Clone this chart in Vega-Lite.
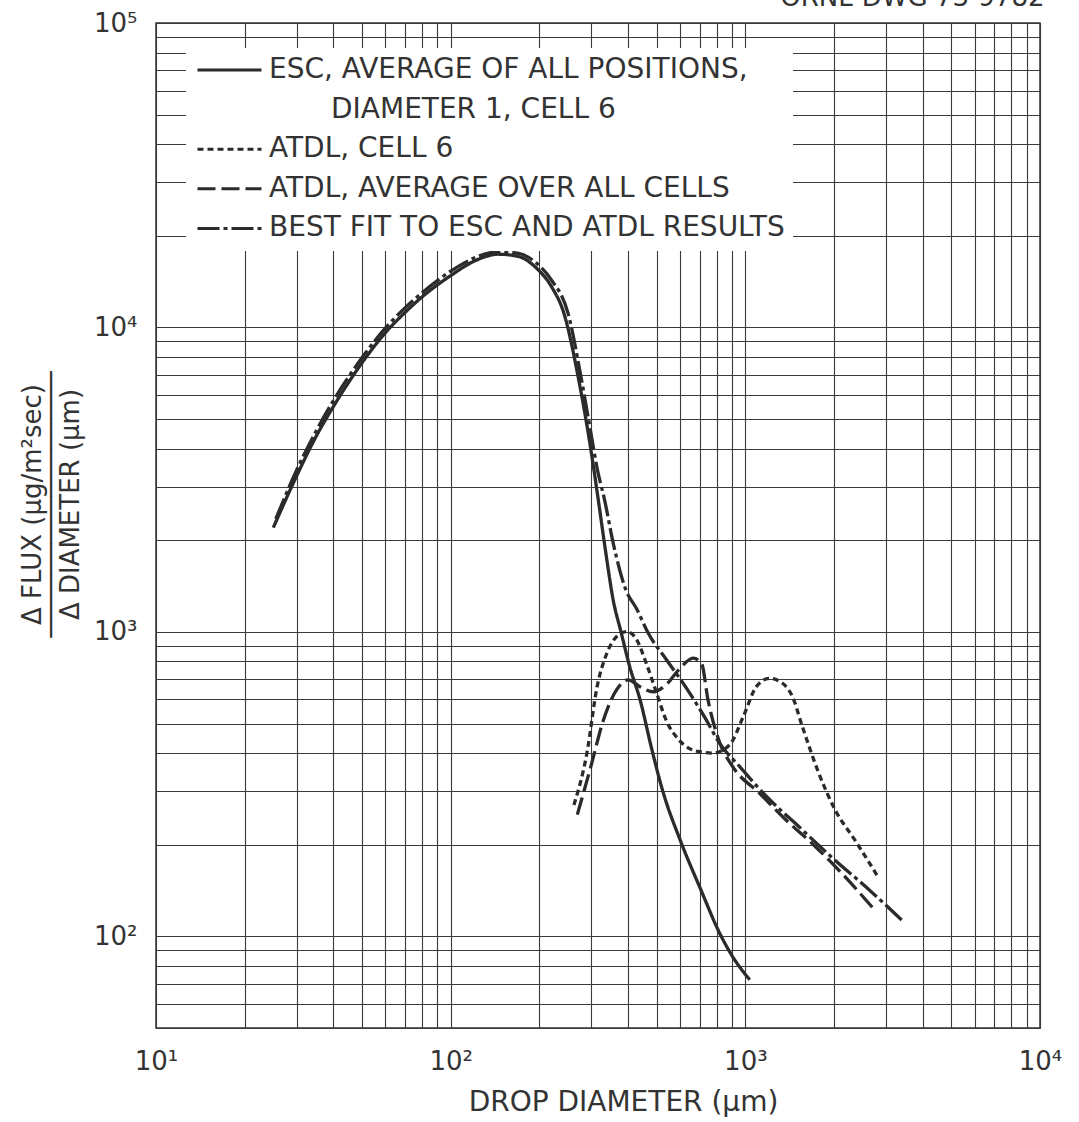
{
  "$schema": "https://vega.github.io/schema/vega-lite/v6.json",
  "width": 884,
  "height": 1005,
  "autosize": {"type": "none"},
  "padding": {"left": 156, "top": 23, "right": 39, "bottom": 94},
  "background": "white",
  "config": {"view": {"stroke": "#333", "strokeWidth": 1.5}, "font": "DejaVu Sans"},
  "data": {"values": [
    {"s": "ESC", "d": 25, "f": 2200}, {"s": "ESC", "d": 30, "f": 3250}, {"s": "ESC", "d": 35, "f": 4400}, {"s": "ESC", "d": 40, "f": 5500}, {"s": "ESC", "d": 50, "f": 7650}, {"s": "ESC", "d": 60, "f": 9600}, {"s": "ESC", "d": 70, "f": 11200}, {"s": "ESC", "d": 80, "f": 12600}, {"s": "ESC", "d": 100, "f": 14800}, {"s": "ESC", "d": 120, "f": 16500}, {"s": "ESC", "d": 145, "f": 17400}, {"s": "ESC", "d": 170, "f": 17100}, {"s": "ESC", "d": 195, "f": 15700}, {"s": "ESC", "d": 220, "f": 13600}, {"s": "ESC", "d": 242, "f": 11170}, {"s": "ESC", "d": 272, "f": 6730}, {"s": "ESC", "d": 298, "f": 4060}, {"s": "ESC", "d": 317, "f": 2710}, {"s": "ESC", "d": 335, "f": 1860}, {"s": "ESC", "d": 356, "f": 1275}, {"s": "ESC", "d": 379, "f": 995}, {"s": "ESC", "d": 405, "f": 770}, {"s": "ESC", "d": 439, "f": 600}, {"s": "ESC", "d": 482, "f": 410}, {"s": "ESC", "d": 523, "f": 303}, {"s": "ESC", "d": 606, "f": 203}, {"s": "ESC", "d": 707, "f": 142}, {"s": "ESC", "d": 816, "f": 103}, {"s": "ESC", "d": 904, "f": 86}, {"s": "ESC", "d": 1035, "f": 72},
    {"s": "CELL6", "d": 262, "f": 270}, {"s": "CELL6", "d": 290, "f": 400}, {"s": "CELL6", "d": 314, "f": 661}, {"s": "CELL6", "d": 339, "f": 851}, {"s": "CELL6", "d": 366, "f": 966}, {"s": "CELL6", "d": 396, "f": 1003}, {"s": "CELL6", "d": 428, "f": 942}, {"s": "CELL6", "d": 461, "f": 789}, {"s": "CELL6", "d": 500, "f": 630}, {"s": "CELL6", "d": 538, "f": 514}, {"s": "CELL6", "d": 595, "f": 442}, {"s": "CELL6", "d": 697, "f": 404}, {"s": "CELL6", "d": 776, "f": 400}, {"s": "CELL6", "d": 885, "f": 426}, {"s": "CELL6", "d": 984, "f": 527}, {"s": "CELL6", "d": 1090, "f": 661}, {"s": "CELL6", "d": 1207, "f": 704}, {"s": "CELL6", "d": 1337, "f": 678}, {"s": "CELL6", "d": 1445, "f": 613}, {"s": "CELL6", "d": 1561, "f": 489}, {"s": "CELL6", "d": 1774, "f": 344}, {"s": "CELL6", "d": 2018, "f": 260}, {"s": "CELL6", "d": 2355, "f": 207}, {"s": "CELL6", "d": 2818, "f": 157},
    {"s": "AVG", "d": 269, "f": 251}, {"s": "AVG", "d": 299, "f": 361}, {"s": "AVG", "d": 330, "f": 514}, {"s": "AVG", "d": 366, "f": 646}, {"s": "AVG", "d": 400, "f": 696}, {"s": "AVG", "d": 439, "f": 661}, {"s": "AVG", "d": 487, "f": 636}, {"s": "AVG", "d": 538, "f": 670}, {"s": "AVG", "d": 594, "f": 750}, {"s": "AVG", "d": 665, "f": 820}, {"s": "AVG", "d": 710, "f": 789}, {"s": "AVG", "d": 747, "f": 598}, {"s": "AVG", "d": 820, "f": 431}, {"s": "AVG", "d": 906, "f": 361}, {"s": "AVG", "d": 1118, "f": 295}, {"s": "AVG", "d": 1374, "f": 241}, {"s": "AVG", "d": 1731, "f": 197}, {"s": "AVG", "d": 2178, "f": 157}, {"s": "AVG", "d": 2748, "f": 122},
    {"s": "BEST", "d": 25.5, "f": 2350}, {"s": "BEST", "d": 30, "f": 3400}, {"s": "BEST", "d": 35, "f": 4580}, {"s": "BEST", "d": 40, "f": 5750}, {"s": "BEST", "d": 50, "f": 7950}, {"s": "BEST", "d": 60, "f": 9950}, {"s": "BEST", "d": 70, "f": 11600}, {"s": "BEST", "d": 80, "f": 13000}, {"s": "BEST", "d": 100, "f": 15300}, {"s": "BEST", "d": 120, "f": 16900}, {"s": "BEST", "d": 145, "f": 17750}, {"s": "BEST", "d": 170, "f": 17500}, {"s": "BEST", "d": 195, "f": 16300}, {"s": "BEST", "d": 220, "f": 14300}, {"s": "BEST", "d": 250, "f": 11170}, {"s": "BEST", "d": 278, "f": 6730}, {"s": "BEST", "d": 298, "f": 4600}, {"s": "BEST", "d": 315, "f": 3400}, {"s": "BEST", "d": 333, "f": 2710}, {"s": "BEST", "d": 356, "f": 1960}, {"s": "BEST", "d": 393, "f": 1375}, {"s": "BEST", "d": 428, "f": 1190}, {"s": "BEST", "d": 467, "f": 995}, {"s": "BEST", "d": 540, "f": 810}, {"s": "BEST", "d": 627, "f": 660}, {"s": "BEST", "d": 736, "f": 515}, {"s": "BEST", "d": 816, "f": 432}, {"s": "BEST", "d": 957, "f": 361}, {"s": "BEST", "d": 1180, "f": 288}, {"s": "BEST", "d": 1521, "f": 229}, {"s": "BEST", "d": 1963, "f": 182}, {"s": "BEST", "d": 2552, "f": 146}, {"s": "BEST", "d": 3467, "f": 111}
  ]},
  "layer": [
    {
      "mark": {"type": "line", "color": "#2b2b2b", "strokeWidth": 3.3, "interpolate": "monotone", "strokeCap": "butt"},
      "encoding": {
        "x": {
          "field": "d", "type": "quantitative",
          "scale": {"type": "log", "domain": [10, 10000], "nice": false},
          "axis": {
            "values": [10, 20, 30, 40, 50, 60, 70, 80, 90, 100, 200, 300, 400, 500, 600, 700, 800, 900, 1000, 2000, 3000, 4000, 5000, 6000, 7000, 8000, 9000, 10000],
            "labelExpr": "datum.value == 10 ? '10¹' : datum.value == 100 ? '10²' : datum.value == 1000 ? '10³' : datum.value == 10000 ? '10⁴' : ''",
            "grid": true, "gridColor": "#3a3a3a", "gridWidth": 1.1, "gridOpacity": 1,
            "ticks": false, "domain": false,
            "labelFont": "DejaVu Sans", "labelFontSize": 26, "labelColor": "#333", "labelPadding": 20, "labelOverlap": false, "labelFlush": false, "labelBound": false, "labelBaseline": "top", "labelAngle": 0,
            "title": "DROP DIAMETER (μm)", "titleFont": "DejaVu Sans", "titleFontSize": 28, "titleFontWeight": "normal", "titleColor": "#333", "titleX": 467, "titleY": 74, "titleBaseline": "middle", "titleAlign": "center"
          }
        },
        "y": {
          "field": "f", "type": "quantitative",
          "scale": {"type": "log", "domain": [50, 100000], "nice": false},
          "axis": {
            "values": [50, 60, 70, 80, 90, 100, 200, 300, 400, 500, 600, 700, 800, 900, 1000, 2000, 3000, 4000, 5000, 6000, 7000, 8000, 9000, 10000, 20000, 30000, 40000, 50000, 60000, 70000, 80000, 90000, 100000],
            "labelExpr": "datum.value == 100 ? '10²' : datum.value == 1000 ? '10³' : datum.value == 10000 ? '10⁴' : datum.value == 100000 ? '10⁵' : ''",
            "grid": true, "gridColor": "#3a3a3a", "gridWidth": 1.1, "gridOpacity": 1,
            "ticks": false, "domain": false,
            "labelFont": "DejaVu Sans", "labelFontSize": 26, "labelColor": "#333", "labelPadding": 19, "labelOverlap": false, "labelFlush": false, "labelBound": false, "labelBaseline": "middle", "labelAlign": "right",
            "title": ["Δ FLUX (μg/m²sec)", "─────────────────", "Δ DIAMETER (μm)"],
            "titleFont": "DejaVu Sans", "titleFontSize": 26, "titleFontWeight": "normal", "titleColor": "#333", "titleLineHeight": 19, "titleAngle": -90, "titleX": -124, "titleY": 481, "titleBaseline": "middle", "titleAlign": "center"
          }
        },
        "strokeDash": {
          "field": "s", "type": "nominal",
          "scale": {"domain": ["ESC", "DIAM", "CELL6", "AVG", "BEST"], "range": [[1, 0], [0, 1000], [6, 4], [18, 6], [22, 4, 4, 4]]},
          "legend": {
            "orient": "none", "legendX": 30, "legendY": 25, "direction": "vertical", "title": null,
            "fillColor": "white", "padding": 8, "strokeColor": null,
            "symbolType": "stroke", "symbolSize": 4096, "symbolStrokeWidth": 3, "symbolStrokeColor": "#2b2b2b", "symbolOffset": 2,
            "clipHeight": 28,
            "labelFont": "DejaVu Sans", "labelFontSize": 28, "labelColor": "#333", "labelOffset": 6, "labelLimit": 1000, "rowPadding": 11.6,
            "labelExpr": "datum.label == 'ESC' ? 'ESC, AVERAGE OF ALL POSITIONS,' : datum.label == 'DIAM' ? 'DIAMETER 1, CELL 6' : datum.label == 'CELL6' ? 'ATDL, CELL 6' : datum.label == 'AVG' ? 'ATDL, AVERAGE OVER ALL CELLS' : 'BEST FIT TO ESC AND ATDL RESULTS'",
            "encode": {"labels": {"update": {"dx": {"signal": "datum.value == 'DIAM' ? 62 : 0"}}}}
          }
        }
      }
    },
    {
      "mark": {"type": "line", "opacity": 0},
      "encoding": {
        "x": {
          "field": "d", "type": "quantitative",
          "scale": {"type": "log", "domain": [10, 10000], "nice": false},
          "axis": {
            "orient": "top", "labels": false, "ticks": false, "domain": false, "grid": false,
            "title": "ORNL-DWG 73-9782", "titleFont": "DejaVu Sans", "titleFontSize": 26, "titleFontWeight": "normal", "titleColor": "#333",
            "titleX": 888, "titleY": -18, "titleAlign": "right", "titleBaseline": "alphabetic", "titleAngle": 0
          }
        },
        "y": {"field": "f", "type": "quantitative", "scale": {"type": "log", "domain": [50, 100000], "nice": false}, "axis": null},
        "detail": {"field": "s"}
      }
    }
  ],
  "resolve": {"axis": {"x": "independent", "y": "independent"}}
}
